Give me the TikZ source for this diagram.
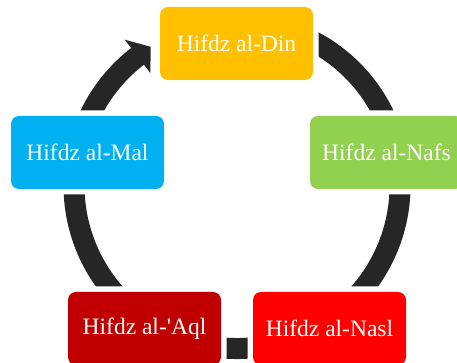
\documentclass[tikz,border=0pt]{standalone}
\usepackage{fontspec}
\setmainfont{Liberation Serif}
\usepackage{xcolor}
\definecolor{ringgray}{HTML}{262626}
\definecolor{dinyellow}{HTML}{FFC000}
\definecolor{nafsgreen}{HTML}{92D050}
\definecolor{malblue}{HTML}{00B0F0}
\definecolor{aqldark}{HTML}{C00000}
\definecolor{naslred}{HTML}{FF0000}

\begin{document}
\begin{tikzpicture}[x=1pt, y=1pt,
    pillar/.style={rectangle, rounded corners=8pt, minimum width=153pt, minimum height=73pt, inner sep=0pt,
        text=white, font=\fontsize{23.5}{28}\selectfont, preaction={draw=white, line width=11pt}}]
    \useasboundingbox (0,0) rectangle (457,363);
    \coordinate (hub) at (237,177.5);

    % ring behind the boxes, with its head just before Hifdz al-Din
    \draw[ringgray, line width=21pt, shift={(hub)}] (105:163) arc[start angle=105, end angle=-232.6, radius=163];
    \fill[ringgray, shift={(hub)}] (127.6:184) -- (121.9:163.4) -- (127.6:142) -- cycle;

    \node[pillar, fill=dinyellow] (din) at (236.5,319.5) {Hifdz al-Din};
    \node[pillar, fill=nafsgreen] (nafs) at (386.5,210.5) {Hifdz al-Nafs};
    \node[pillar, fill=malblue] (mal) at (87.5,210.5) {Hifdz al-Mal};
    \node[pillar, fill=aqldark] (aql) at (144.5,34.5) {Hifdz al-\textquotesingle Aql};
    \node[pillar, fill=naslred] (nasl) at (329.5,34.5) {Hifdz al-Nasl};
\end{tikzpicture}
\end{document}
